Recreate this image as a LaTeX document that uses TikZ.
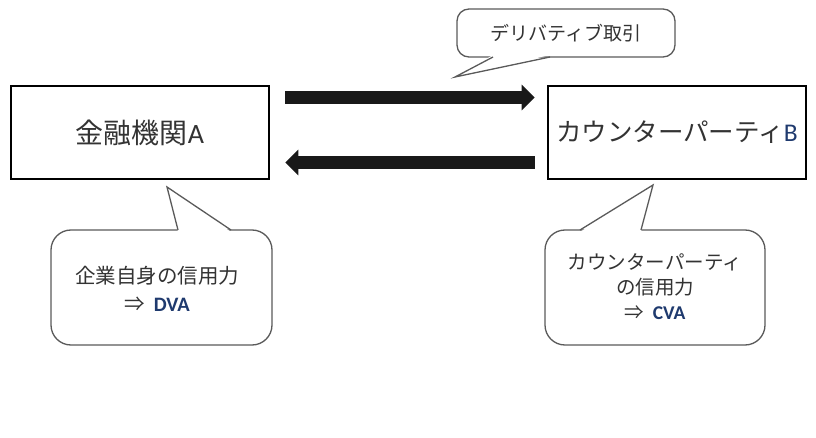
\documentclass[tikz,border=0pt]{standalone}
\usepackage{fontspec}
\setmainfont{Noto Sans CJK JP}
\newfontfamily\latinfont{Carlito}
\usetikzlibrary{arrows.meta}
\definecolor{txtgray}{HTML}{333333}
\definecolor{bubgray}{HTML}{5A5A5A}
\definecolor{navy}{HTML}{1F3A6E}
\tikzset{
  partybox/.style={draw=black, line width=2.6pt, minimum width=258pt, minimum height=93pt, inner sep=0pt, text=txtgray},
  bubble/.style={draw=bubgray, line width=1.3pt, fill=white, inner sep=0pt},
  tailfill/.style={fill=white},
  taildraw/.style={draw=bubgray, line width=1.3pt, line join=miter},
  bigarrow/.style={line width=13pt, -{Triangle[length=13pt,width=25pt]}, black!90},
  ltxt/.style={text=txtgray, inner sep=0pt, align=center}
}
\begin{document}
\begin{tikzpicture}[x=1pt,y=-1pt]
\useasboundingbox (0,0) rectangle (816,438);
% party boxes
\node[partybox, font={\fontsize{28pt}{32pt}\selectfont}] (A) at (140,132.5) {金融機関{\latinfont A}};
\node[partybox, font={\fontsize{25.5pt}{30pt}\selectfont}] (B) at (677,132.5) {カウンターパーティ{\latinfont\color{navy}B}};
% arrows
\draw[bigarrow] ([xshift=15pt,yshift=35pt]A.east) -- ([xshift=-12pt,yshift=35pt]B.west);
\draw[bigarrow] ([xshift=-12pt,yshift=-30pt]B.west) -- ([xshift=15pt,yshift=-30pt]A.east);
% top callout
\node[bubble, rounded corners=12pt, minimum width=218pt, minimum height=48pt] (T) at (566,33) {};
\coordinate (Tt) at (455,77);
\fill[tailfill] (493,55) -- (Tt) -- (550,55) -- cycle;
\draw[taildraw] (493,57) -- (Tt) -- (550,57);
\node[ltxt, font={\fontsize{19pt}{22pt}\selectfont}] (Tx) at (T) {デリバティブ取引};
% left bubble
\node[bubble, rounded corners=20pt, minimum width=221pt, minimum height=115pt] (L) at (161.5,287.5) {};
\coordinate (Lt) at (167,187);
\fill[tailfill] (178,232) -- (Lt) -- (231,232) -- cycle;
\draw[taildraw] (178,230) -- (Lt) -- (231,230);
\node[ltxt, font={\fontsize{20.5pt}{28pt}\selectfont}] (Lx) at (157,289) {企業自身の信用力\\⇒\ \ {\latinfont\bfseries\color{navy}DVA}};
% right bubble
\node[bubble, rounded corners=20pt, minimum width=220pt, minimum height=115pt] (R) at (655,287.5) {};
\coordinate (Rt) at (653,185);
\fill[tailfill] (580,232) -- (Rt) -- (641,232) -- cycle;
\draw[taildraw] (580,230) -- (Rt) -- (641,230);
\node[ltxt, font={\fontsize{19.5pt}{25pt}\selectfont}] (Rx) at (655,287) {カウンターパーティ\\の信用力\\⇒\ \ {\latinfont\bfseries\color{navy}CVA}};
\end{tikzpicture}
\end{document}
